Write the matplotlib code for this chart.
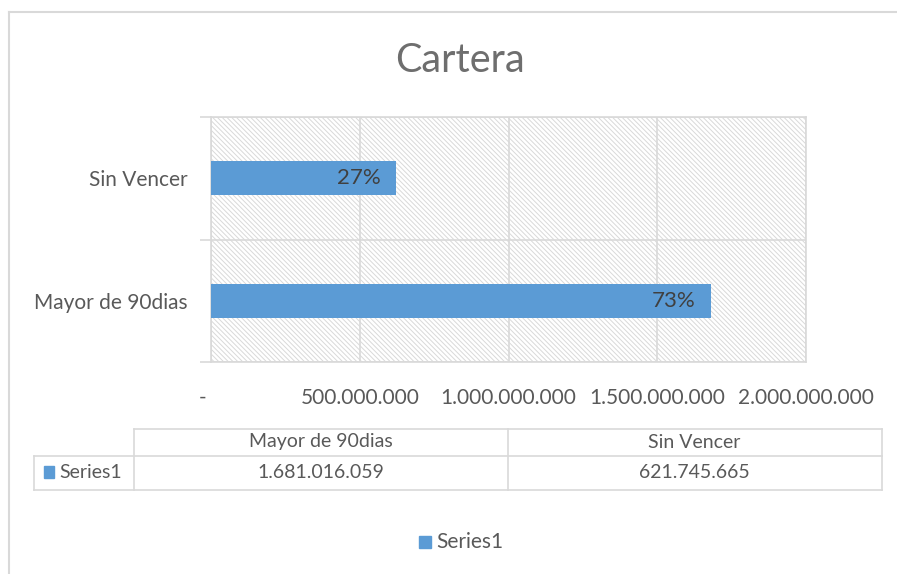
import matplotlib
matplotlib.use('Agg')
import matplotlib.pyplot as plt
from matplotlib.patches import Rectangle
from matplotlib.lines import Line2D

categories = ['Mayor de 90dias', 'Sin Vencer']
values = [1681016059, 621745665]
series_name = 'Series1'
value_labels = ['1.681.016.059', '621.745.665']
xticks = [0, 500000000, 1000000000, 1500000000, 2000000000]
xtick_labels = ['-', '500.000.000', '1.000.000.000', '1.500.000.000', '2.000.000.000']

W, H = 897, 574
BLUE = '#5b9bd5'
GRID = '#d9d9d9'
TXT = '#595959'

plt.rcParams['font.family'] = ['Lato', 'DejaVu Sans']
plt.rcParams['hatch.color'] = '#d9d9d9'
plt.rcParams['hatch.linewidth'] = 0.7

fig = plt.figure(figsize=(W / 100, H / 100), dpi=100)

def fx(px):
    return px / W

def fy(py):
    return 1 - py / H

# chart outline
fig.add_artist(Line2D([fx(8.5), fx(897)], [fy(11.5), fy(11.5)], color=GRID, lw=1.5))
fig.add_artist(Line2D([fx(8.5), fx(8.5)], [fy(11.5), fy(574)], color=GRID, lw=1.5))

fig.text(fx(460), fy(61), 'Cartera', ha='center', va='center', fontsize=28.5, color='#6e6e6e')

ax = fig.add_axes([fx(211), fy(362), fx(806) - fx(211), fy(117) - fy(362)])
ax.add_patch(Rectangle((0, 0), 1, 1, transform=ax.transAxes, facecolor='white',
                       edgecolor='#d9d9d9', hatch='\\' * 7, lw=0, zorder=0))

ypos = list(range(len(categories)))
ax.barh(ypos, values, height=0.28, color=BLUE, zorder=3)

total = sum(values)
for y, v in zip(ypos, values):
    ax.annotate(f'{round(100 * v / total)}%', (v, y), xytext=(-11, 0), textcoords='offset points',
                ha='right', va='center', fontsize=16, color='#404040', zorder=4)

ax.set_xlim(0, 2000000000)
ax.set_ylim(-0.5, len(categories) - 0.5)
ax.set_xticks(xticks)
# excel puts the zero dash slightly left of the axis
ax.set_xticklabels([t + '   ' if t == '-' else t for t in xtick_labels])
ax.tick_params(axis='x', length=0, pad=19, labelsize=15, labelcolor=TXT)
ax.set_yticks(ypos)
ax.set_yticklabels(categories)
ax.tick_params(axis='y', which='major', length=0, pad=16.5, labelsize=15, labelcolor=TXT)
ax.set_yticks([-0.5, 0.5, 1.5], minor=True)
ax.tick_params(axis='y', which='minor', length=8, width=1.2, color=GRID)
ax.grid(axis='x', color=GRID, lw=1.2, zorder=1)
ax.grid(axis='y', which='minor', color=GRID, lw=1.2, zorder=1)
ax.set_axisbelow(True)
for s in ax.spines.values():
    s.set_color(GRID)
    s.set_linewidth(1.2)

# data table under the chart
row_top, row_mid, row_bot = 428.5, 455.5, 489.5
col_x = [33.5, 133.5, 507.5, 881.5]
def hline(y, x0, x1):
    fig.add_artist(Line2D([fx(x0), fx(x1)], [fy(y), fy(y)], color=GRID, lw=1.2))
def vline(x, y0, y1):
    fig.add_artist(Line2D([fx(x), fx(x)], [fy(y0), fy(y1)], color=GRID, lw=1.2))

hline(row_top, col_x[1], col_x[3])
hline(row_mid, col_x[0], col_x[3])
hline(row_bot, col_x[0], col_x[3])
vline(col_x[0], row_mid, row_bot)
for x in col_x[1:]:
    vline(x, row_top, row_bot)

for i, cat in enumerate(categories):
    cx = (col_x[i + 1] + col_x[i + 2]) / 2
    fig.text(fx(cx), fy(442), cat, ha='center', va='center', fontsize=14, color=TXT)
    fig.text(fx(cx), fy(472), value_labels[i], ha='center', va='center', fontsize=14, color=TXT)
fig.add_artist(Rectangle((fx(44), fy(478)), fx(10), fy(466) - fy(478), color=BLUE))
fig.text(fx(59), fy(472), series_name, ha='left', va='center', fontsize=14, color=TXT)

# legend
fig.add_artist(Rectangle((fx(419), fy(548)), fx(12), fy(536) - fy(548), color=BLUE))
fig.text(fx(436), fy(542), series_name, ha='left', va='center', fontsize=15, color=TXT)

fig.savefig('out.png', dpi=100)
